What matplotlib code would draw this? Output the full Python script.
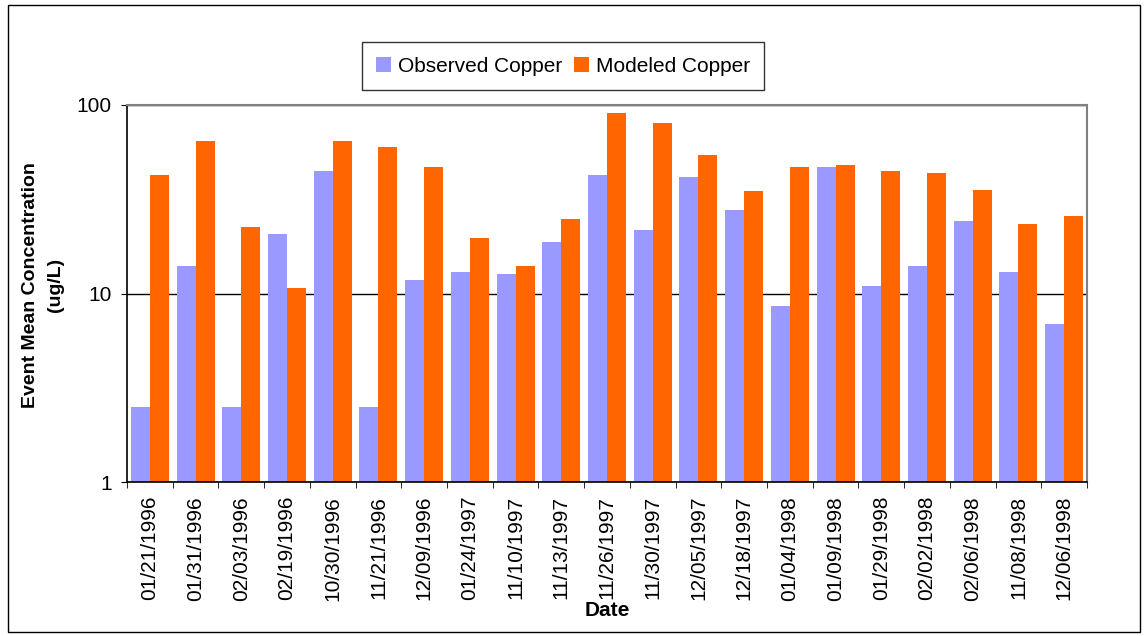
import matplotlib
matplotlib.use("Agg")
import matplotlib.pyplot as plt
import numpy as np
from matplotlib.patches import Rectangle
from matplotlib.ticker import NullLocator, FixedLocator, FixedFormatter

dates = ["01/21/1996", "01/31/1996", "02/03/1996", "02/19/1996", "10/30/1996",
         "11/21/1996", "12/09/1996", "01/24/1997", "11/10/1997", "11/13/1997",
         "11/26/1997", "11/30/1997", "12/05/1997", "12/18/1997", "01/04/1998",
         "01/09/1998", "01/29/1998", "02/02/1998", "02/06/1998", "11/08/1998",
         "12/06/1998"]
observed = [2.5, 14.0, 2.5, 20.8, 44.4, 2.5, 11.8, 13.0, 12.7, 18.8, 42.3,
            21.8, 41.3, 27.9, 8.6, 46.7, 11.0, 14.0, 24.1, 13.0, 6.9]
modeled = [42.3, 64.2, 22.4, 10.7, 64.2, 59.7, 46.7, 19.8, 14.0, 24.7, 90.6,
           80.1, 54.1, 34.8, 46.7, 47.8, 44.4, 43.4, 35.6, 23.5, 25.9]

plt.rcParams['font.family'] = ['Liberation Sans', 'DejaVu Sans']

W, H = 1148, 636
fig = plt.figure(figsize=(W / 100, H / 100), dpi=100)
ax = fig.add_axes([127 / W, 1 - 482 / H, (1087 - 127) / W, (482 - 105) / H])

x = np.arange(len(dates))
bw = 0.415
ax.bar(x - bw / 2, observed, width=bw, color='#9999FF', label='Observed Copper', zorder=2)
ax.bar(x + bw / 2, modeled, width=bw, color='#FF6600', label='Modeled Copper', zorder=2)

ax.set_yscale('log')
ax.set_ylim(1, 100)
ax.set_xlim(-0.5, len(dates) - 0.5)
ax.yaxis.set_major_locator(FixedLocator([1, 10, 100]))
ax.yaxis.set_major_formatter(FixedFormatter(['1', '10', '100']))
ax.yaxis.set_minor_locator(NullLocator())
ax.grid(axis='y', which='major', color='#000000', linewidth=1.0, zorder=1)

ax.set_xticks(x)
ax.set_xticklabels(dates, rotation=90, fontsize=15)
ax.tick_params(axis='x', which='major', length=0, pad=10)
ax.set_xticks(np.arange(-0.5, len(dates) + 0.5, 1), minor=True)
ax.tick_params(axis='x', which='minor', length=4, direction='out', color='black')
ax.tick_params(axis='y', labelsize=15, length=4, direction='out', pad=7)

for s in ['left', 'bottom']:
    ax.spines[s].set_color('black')
    ax.spines[s].set_linewidth(1.2)
for s in ['top', 'right']:
    ax.spines[s].set_color('#808080')
    ax.spines[s].set_linewidth(1.5)

ax.set_xlabel('Date', fontsize=15, fontweight='bold', labelpad=0)
ax.set_ylabel('Event Mean Concentration\n(ug/L)', fontsize=14, fontweight='bold',
              linespacing=1.65)
ax.yaxis.set_label_coords((64 - 127) / (1087 - 127), (482 - 285) / (482 - 105))

leg = ax.legend(loc='center', bbox_to_anchor=((563 - 127) / (1087 - 127), 1 + (105 - 66) / (482 - 105)),
                ncol=2, fontsize=15, frameon=True, fancybox=False, handlelength=0.72,
                handleheight=0.72, handletextpad=0.3, columnspacing=0.6, borderpad=0.7,
                borderaxespad=0, edgecolor='black')
leg.get_frame().set_linewidth(1.0)

fig.patches.append(Rectangle((8 / W, 1 - 632 / H), (1140 - 8) / W, (632 - 5) / H,
                             transform=fig.transFigure, fill=False, edgecolor='black',
                             linewidth=1.0))

fig.savefig('out.png', dpi=100)
